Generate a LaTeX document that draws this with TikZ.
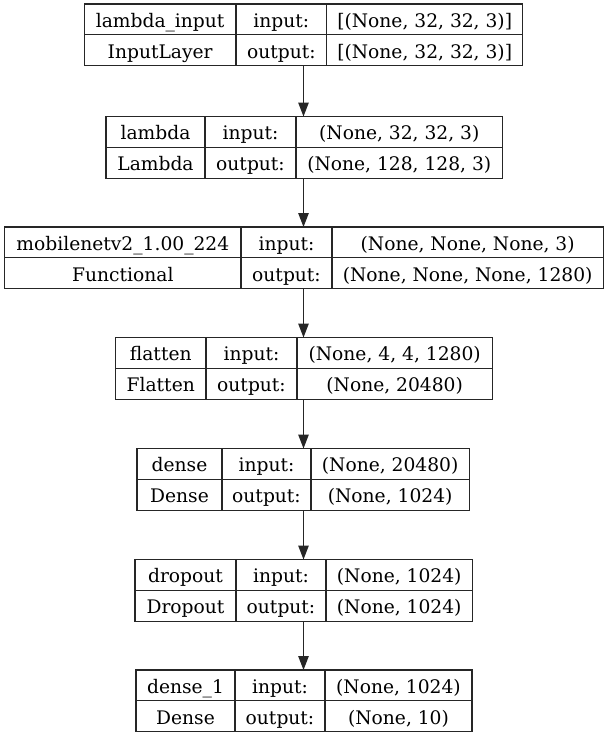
\documentclass[tikz,border=0pt]{standalone}
\usepackage{fontspec}
\setmainfont{DejaVu Serif}
\usetikzlibrary{arrows.meta}
\begin{document}
\begin{tikzpicture}[x=1pt,y=-1pt,
  boxline/.style={draw=black!85, line width=1.1pt},
  layerbox/.style={boxline, inner sep=0pt, outer sep=0pt, anchor=north west, minimum height=61.8pt},
  celltext/.style={anchor=base, inner sep=0pt, font=\fontsize{18.67}{22}\selectfont},
  conn/.style={draw=black!85, line width=1.1pt, -{Triangle[length=14pt,width=10.5pt]}}]
\useasboundingbox (0,0) rectangle (608,737);
\foreach \nm/\xa/\xb/\xc/\xd/\yt/\sa/\sb/\sc/\sd in {
  b1/84.3/236/326.7/522.7/4/{lambda\_input}/{InputLayer}/{[(None, 32, 32, 3)]}/{[(None, 32, 32, 3)]},
  b2/106/205/296/502.5/116.5/{lambda}/{Lambda}/{(None, 32, 32, 3)}/{(None, 128, 128, 3)},
  b3/4.7/241/332/603.3/227/{mobilenetv2\_1.00\_224}/{Functional}/{(None, None, None, 3)}/{(None, None, None, 1280)},
  b4/115.5/206/297/492.3/337.5/{flatten}/{Flatten}/{(None, 4, 4, 1280)}/{(None, 20480)},
  b5/137/222/311/469.3/448.5/{dense}/{Dense}/{(None, 20480)}/{(None, 1024)},
  b6/135/236/326/472.5/559.5/{dropout}/{Dropout}/{(None, 1024)}/{(None, 1024)},
  b7/136/235/325/472/670/{dense\_1}/{Dense}/{(None, 1024)}/{(None, 10)}} {
  \node[layerbox, minimum width={(\xd-\xa)*1pt}] (\nm) at (\xa,\yt) {};
  \draw[boxline] (\xa,{\yt+30.9}) -- (\xd,{\yt+30.9});
  \draw[boxline] (\xb,\yt) -- (\xb,{\yt+61.8});
  \draw[boxline] (\xc,\yt) -- (\xc,{\yt+61.8});
  \node[celltext] (\nm-n) at ({(\xa+\xb)/2},{\yt+23}) {\sa};
  \node[celltext] (\nm-c) at ({(\xa+\xb)/2},{\yt+54}) {\sb};
  \node[celltext] (\nm-i) at ({(\xb+\xc)/2},{\yt+23}) {input:};
  \node[celltext] (\nm-o) at ({(\xb+\xc)/2},{\yt+54}) {output:};
  \node[celltext] (\nm-si) at ({(\xc+\xd)/2},{\yt+23}) {\sc};
  \node[celltext] (\nm-so) at ({(\xc+\xd)/2},{\yt+54}) {\sd};
}
\coordinate (ax) at (303.5,0);
\foreach \u/\v in {b1/b2,b2/b3,b3/b4,b4/b5,b5/b6,b6/b7}
  \draw[conn] (ax |- \u.south) -- (ax |- \v.north);
\end{tikzpicture}
\end{document}
